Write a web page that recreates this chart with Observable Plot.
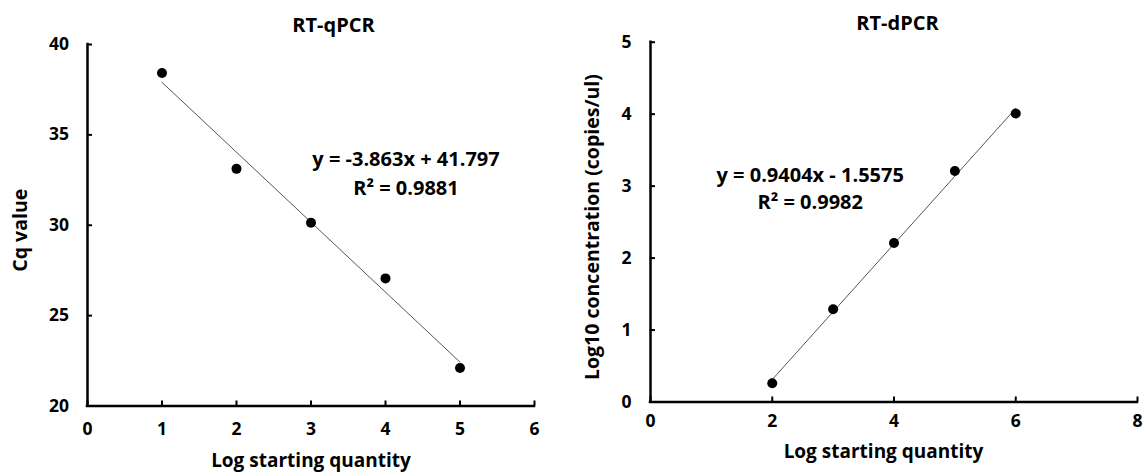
<!DOCTYPE html>
<html>
<head>
<meta charset="utf-8">
<script src="https://cdn.jsdelivr.net/npm/d3@7"></script>
<script src="https://cdn.jsdelivr.net/npm/@observablehq/plot@0.6"></script>
<style>
  body { margin: 0; background: #fff; }
  #wrap { position: relative; width: 1145px; height: 474px; overflow: hidden; background: #fff; }
  #left, #right { position: absolute; top: 0; }
  #left { left: 0; }
  #right { left: 575px; }
  svg { overflow: visible; }
</style>
</head>
<body>
<div id="wrap"><div id="left"></div><div id="right"></div></div>
<script>
// ---- data ----
const qpcrX = [1, 2, 3, 4, 5];
const qpcrCq = [38.42, 33.12, 30.14, 27.06, 22.10];
const dpcrX = [2, 3, 4, 5, 6];
const dpcrLog = [0.26, 1.29, 2.21, 3.21, 4.01];

const qpcrXTicks = [0, 1, 2, 3, 4, 5, 6];
const qpcrYTicks = [20, 25, 30, 35, 40];
const dpcrXTicks = [0, 2, 4, 6, 8];
const dpcrYTicks = [0, 1, 2, 3, 4, 5];

const titles = ["RT-qPCR", "RT-dPCR"];
const xLabels = ["Log starting quantity", "Log starting quantity"];
const yLabels = ["Cq value", "Log10 concentration (copies/ul)"];
const equations = [
  ["y = -3.863x + 41.797", "R\u00b2 = 0.9881"],
  ["y = 0.9404x - 1.5575", "R\u00b2 = 0.9982"]
];

function chart(cfg) {
  const data = cfg.xs.map((x, i) => ({x, y: cfg.ys[i]}));
  const plotW = cfg.width - cfg.ml - cfg.mr;
  const plotH = cfg.height - cfg.mt - cfg.mb;
  const xd = [cfg.xTicks[0], cfg.xTicks[cfg.xTicks.length - 1]];
  const yd = [cfg.yTicks[0], cfg.yTicks[cfg.yTicks.length - 1]];
  return Plot.plot({
    width: cfg.width,
    height: cfg.height,
    marginLeft: cfg.ml,
    marginRight: cfg.mr,
    marginTop: cfg.mt,
    marginBottom: cfg.mb,
    style: {fontFamily: "'Open Sans', sans-serif", fontWeight: "bold", color: "#000", background: "#fff", overflow: "visible"},
    x: {domain: xd},
    y: {domain: yd},
    marks: [
      Plot.linearRegressionY(data, {x: "x", y: "y", ci: 0, stroke: "#555", strokeWidth: 1}),
      Plot.dot(data, {x: "x", y: "y", r: 5, fill: "#000", stroke: null}),
      Plot.tickX(cfg.xTicks, {x: d => d, insetTop: plotH - 5, stroke: "#000", strokeWidth: 2}),
      Plot.tickY(cfg.yTicks, {y: d => d, insetRight: plotW - 5, stroke: "#000", strokeWidth: 2}),
      Plot.ruleY([yd[0]], {stroke: "#000", strokeWidth: 2.5, strokeLinecap: "square"}),
      Plot.ruleX([xd[0]], {stroke: "#000", strokeWidth: 2.5, strokeLinecap: "square"}),
      Plot.axisX(cfg.xTicks, {tickSize: 0, tickPadding: cfg.xPad, fontSize: 17.5, label: null, tickFormat: d3.format("d")}),
      Plot.axisY(cfg.yTicks, {tickSize: 0, tickPadding: cfg.yPad, fontSize: 17.5, label: null, tickFormat: d3.format("d")}),
      Plot.text([cfg.title], {frameAnchor: "top", dx: cfg.titleDx, dy: cfg.titleDy, fontSize: 20, lineAnchor: "middle", textAnchor: "middle", fill: "#000"}),
      Plot.text([cfg.xLabel], {frameAnchor: "bottom", dx: cfg.xlDx, dy: cfg.xlDy, fontSize: 19, lineAnchor: "middle", textAnchor: "middle", fill: "#000"}),
      Plot.text([cfg.yLabel], {frameAnchor: "left", dx: cfg.ylDx, dy: cfg.ylDy, rotate: -90, fontSize: 19.5, lineAnchor: "middle", textAnchor: "middle", fill: "#000"}),
      Plot.text([cfg.eq.join("\n")], {frameAnchor: "top-left", dx: cfg.eqDx, dy: cfg.eqDy, fontSize: 20, lineAnchor: "middle", textAnchor: "middle", lineHeight: cfg.eqLH, fill: "#000"})
    ]
  });
}

document.getElementById("left").appendChild(chart({
  xs: qpcrX, ys: qpcrCq, xTicks: qpcrXTicks, yTicks: qpcrYTicks,
  width: 575, height: 474, ml: 87, mr: 41, mt: 44, mb: 68.5,
  xPad: 16.5, yPad: 18.5,
  title: titles[0], titleDx: 22.5, titleDy: -19,
  xLabel: xLabels[0], xlDx: 0, xlDy: 54.5,
  yLabel: yLabels[0], ylDx: -66.6, ylDy: 5,
  eq: equations[0], eqDx: 318.5, eqDy: 126.9, eqLH: 28.3 / 20
}));

document.getElementById("right").appendChild(chart({
  xs: dpcrX, ys: dpcrLog, xTicks: dpcrXTicks, yTicks: dpcrYTicks,
  width: 570, height: 474, ml: 75, mr: 8, mt: 41.7, mb: 72.5,
  xPad: 13, yPad: 19,
  title: titles[1], titleDx: 3.5, titleDy: -18.4,
  xLabel: xLabels[1], xlDx: -10.5, xlDy: 50,
  yLabel: yLabels[1], ylDx: -57.4, ylDy: 5,
  eq: equations[1], eqDx: 159.7, eqDy: 145, eqLH: 26.7 / 20
}));
</script>
</body>
</html>
